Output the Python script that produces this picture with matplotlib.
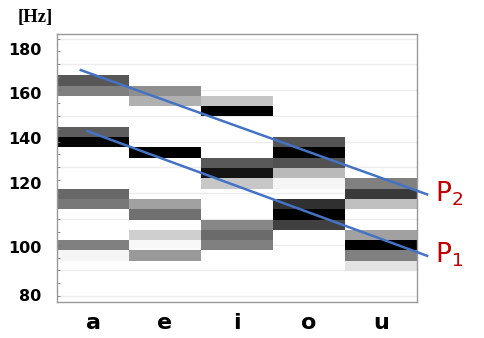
import numpy as np
import matplotlib
matplotlib.use('Agg')
import matplotlib.pyplot as plt

# vowels on the x axis
vowels = ['a', 'e', 'i', 'o', 'u']

# spectrogram rows (0 = top row, 26 rows total) and gray level (0 black, 1 white)
rows_a = [4, 5, 9, 10, 15, 16, 20, 21]
gray_a = [0.34, 0.50, 0.37, 0.02, 0.41, 0.47, 0.50, 0.96]
rows_e = [5, 6, 11, 16, 17, 19, 20, 21]
gray_e = [0.56, 0.69, 0.00, 0.63, 0.44, 0.81, 0.97, 0.60]
rows_i = [6, 7, 12, 13, 14, 18, 19, 20]
gray_i = [0.77, 0.00, 0.35, 0.08, 0.78, 0.53, 0.42, 0.50]
rows_o = [10, 11, 12, 13, 14, 16, 17, 18]
gray_o = [0.33, 0.01, 0.32, 0.73, 0.96, 0.19, 0.00, 0.25]
rows_u = [14, 15, 16, 19, 20, 21, 22]
gray_u = [0.50, 0.23, 0.75, 0.63, 0.00, 0.50, 0.89]
n_rows = 26

# frequency labels and the row where each sits
hz_labels = ['180', '160', '140', '120', '100', '80']
hz_rows = [1.46, 5.73, 10.1, 14.5, 20.65, 25.3]

# pitch trend lines (x in vowel index, y in rows)
p2_x = [-0.17, 4.64]
p2_y = [3.5, 15.56]
p1_x = [-0.08, 4.64]
p1_y = [9.42, 21.52]

fig = plt.figure(figsize=(4.84, 3.38), dpi=100)
ax = fig.add_axes([0.1178, 0.1065, 0.7438, 0.7929])

# faint horizontal grid
for g in np.arange(0.44, n_rows, 2.5):
    ax.axhline(g, color='#ececec', lw=1, zorder=0)

cols = [(rows_a, gray_a), (rows_e, gray_e), (rows_i, gray_i),
        (rows_o, gray_o), (rows_u, gray_u)]
for i, (rows, grays) in enumerate(cols):
    ax.bar([i] * len(rows), 1, bottom=rows, width=1.0,
           color=plt.cm.gray(np.array(grays)), edgecolor='none', zorder=1)

ax.plot(p2_x, p2_y, color='#4472C4', lw=1.8, zorder=3, clip_on=False)
ax.plot(p1_x, p1_y, color='#4472C4', lw=1.8, zorder=3, clip_on=False)

ax.text(4.75, p2_y[1] - 0.1, r'$\mathregular{P_2}$', color='#C00000', fontsize=19,
        va='center', ha='left', clip_on=False)
ax.text(4.75, p1_y[1] - 0.1, r'$\mathregular{P_1}$', color='#C00000', fontsize=19,
        va='center', ha='left', clip_on=False)

ax.set_xlim(-0.5, 4.5)
ax.set_ylim(n_rows, 0)

ax.set_xticks(range(len(vowels)))
ax.set_xticklabels(vowels, fontsize=16, fontweight='bold')
ax.tick_params(axis='x', length=0, pad=8)

ax.set_yticks(hz_rows)
ax.set_yticklabels(hz_labels, fontsize=11.5, fontweight='bold')
ax.tick_params(axis='y', length=0, pad=11)
ax.set_yticks(np.arange(0.44, n_rows, 1.25), minor=True)
ax.tick_params(axis='y', which='minor', length=2, direction='in', color='#777777')

for s in ax.spines.values():
    s.set_color('#999999')
    s.set_linewidth(1.0)

fig.text(35 / 484, 1 - 17.5 / 338, '[Hz]', family='Liberation Serif',
         fontweight='bold', fontsize=13.5, ha='center', va='center')

fig.savefig('out.png', dpi=100)
